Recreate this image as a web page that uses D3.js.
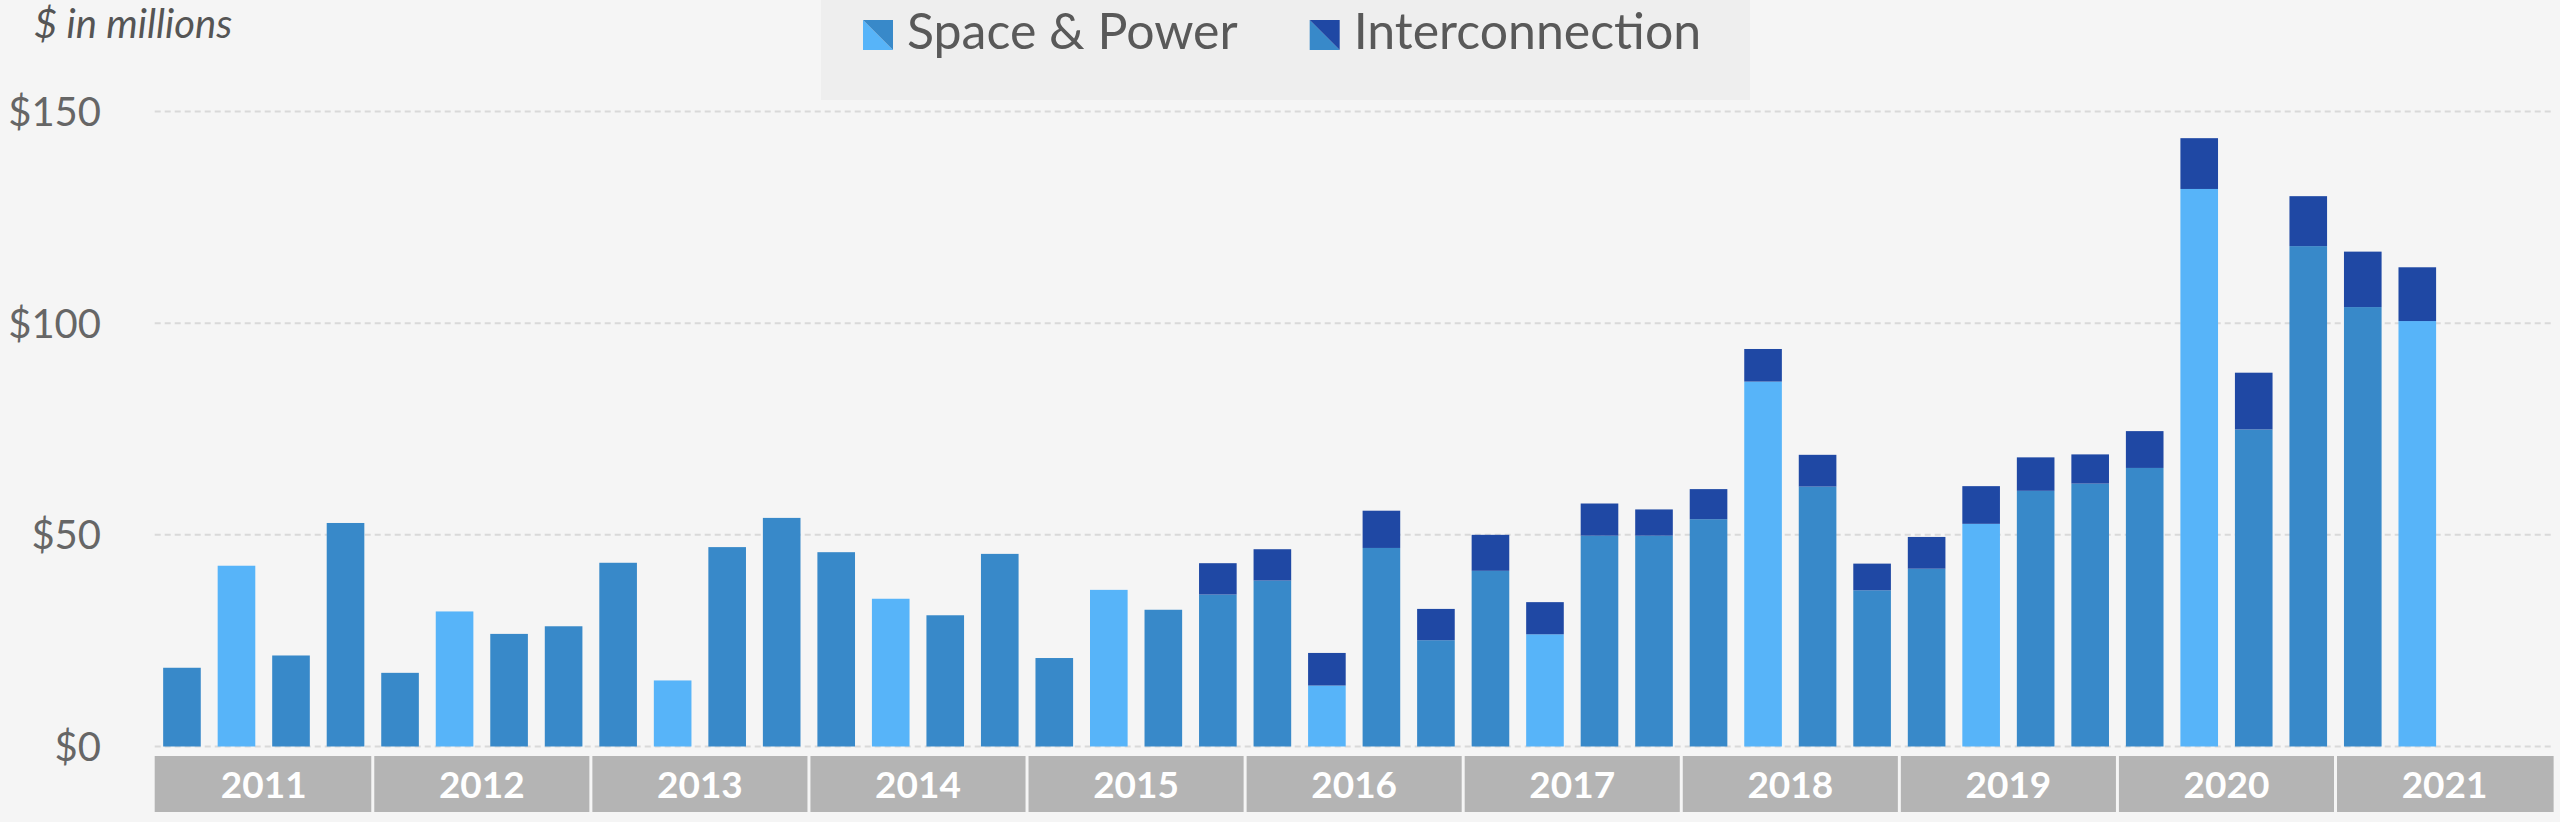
<!DOCTYPE html>
<html>
<head>
<meta charset="utf-8">
<script src="https://cdn.jsdelivr.net/npm/d3@7"></script>
<style>
  html, body { margin: 0; padding: 0; background: #f5f5f5; }
  svg { display: block; }
</style>
</head>
<body>
<svg id="chart" width="2560" height="822"></svg>
<script>
// ---------------- DATA ----------------
const years = ["2011","2012","2013","2014","2015","2016","2017","2018","2019","2020","2021"];
const quarterNames = ["Q1","Q2","Q3","Q4"];
// Reported quarters (2011 Q1 .. 2021 Q2)
const categories = [
  "2011 Q1","2011 Q2","2011 Q3","2011 Q4",
  "2012 Q1","2012 Q2","2012 Q3","2012 Q4",
  "2013 Q1","2013 Q2","2013 Q3","2013 Q4",
  "2014 Q1","2014 Q2","2014 Q3","2014 Q4",
  "2015 Q1","2015 Q2","2015 Q3","2015 Q4",
  "2016 Q1","2016 Q2","2016 Q3","2016 Q4",
  "2017 Q1","2017 Q2","2017 Q3","2017 Q4",
  "2018 Q1","2018 Q2","2018 Q3","2018 Q4",
  "2019 Q1","2019 Q2","2019 Q3","2019 Q4",
  "2020 Q1","2020 Q2","2020 Q3","2020 Q4",
  "2021 Q1","2021 Q2"
];
const spaceAndPower = [
  18.6, 42.7, 21.5, 52.8,
  17.4, 31.9, 26.6, 28.4,
  43.4, 15.6, 47.1, 54.0,
  45.9, 34.9, 31.0, 45.5,
  20.9, 37.0, 32.3, 35.9,
  39.2, 14.4, 46.9, 25.1,
  41.5, 26.5, 49.8, 49.8,
  53.7, 86.2, 61.4, 36.9,
  42.0, 52.6, 60.4, 62.1,
  65.8, 131.7, 74.9, 118.2,
  103.8, 100.5
];
const interconnection = [
  0, 0, 0, 0,
  0, 0, 0, 0,
  0, 0, 0, 0,
  0, 0, 0, 0,
  0, 0, 0, 7.4,
  7.4, 7.7, 8.8, 7.4,
  8.5, 7.6, 7.6, 6.2,
  7.1, 7.7, 7.5, 6.3,
  7.5, 8.9, 7.9, 6.9,
  8.7, 12.0, 13.4, 11.8,
  13.1, 12.7
];
const seriesNames = ["Space & Power", "Interconnection"];
const yTicks = [0, 50, 100, 150];
const unitLabel = "$ in millions";

// ---------------- STYLE ----------------
const COL_MID = "#3889c9";
const COL_LIGHT = "#57b4f9";
const COL_DARK = "#1f48a4";
const FONT = "Lato, 'Open Sans', sans-serif";

const svg = d3.select("#chart");
svg.append("rect").attr("width", 2560).attr("height", 822).attr("fill", "#f5f5f5");

const left = 154.7, right = 2553.6, y0 = 746.5, yTop = 111.5;

const allSlots = [];
years.forEach(y => quarterNames.forEach(q => allSlots.push(y + " " + q)));

const x = d3.scaleBand().domain(allSlots).range([left, right]).paddingInner(0.31).paddingOuter(0.155);
const xYear = d3.scaleBand().domain(years).range([left, right]);
const y = d3.scaleLinear().domain([0, 150]).range([y0, yTop]);

// gridlines
const grid = svg.append("g");
grid.selectAll("line").data(yTicks).join("line")
  .attr("x1", left).attr("x2", right)
  .attr("y1", d => y(d)).attr("y2", d => y(d))
  .attr("stroke", "#d9d9d9").attr("stroke-width", 2)
  .attr("stroke-dasharray", "6,4");

// y axis labels
const yAxis = d3.axisLeft(y).tickValues(yTicks).tickFormat(d => "$" + d).tickSize(0).tickPadding(0);
const gy = svg.append("g").attr("transform", "translate(101,0)").call(yAxis);
gy.select(".domain").remove();
gy.selectAll("text").attr("font-family", FONT).attr("font-size", 40).attr("fill", "#666").attr("dy", "0.35em");

// bars
const rows = categories.map((c, i) => ({ cat: c, sp: spaceAndPower[i], ic: interconnection[i] }));
const spColor = d => d.cat.endsWith("Q2") ? COL_LIGHT : COL_MID;

svg.append("g").selectAll("rect").data(rows).join("rect")
  .attr("x", d => x(d.cat)).attr("width", x.bandwidth())
  .attr("y", d => y(d.sp)).attr("height", d => y(0) - y(d.sp))
  .attr("fill", spColor);

svg.append("g").selectAll("rect").data(rows.filter(d => d.ic > 0)).join("rect")
  .attr("x", d => x(d.cat)).attr("width", x.bandwidth())
  .attr("y", d => y(d.sp + d.ic)).attr("height", d => y(d.sp) - y(d.sp + d.ic))
  .attr("fill", COL_DARK);

// year band axis
const band = svg.append("g");
band.selectAll("rect").data(years).join("rect")
  .attr("x", d => xYear(d)).attr("width", xYear.bandwidth())
  .attr("y", 756).attr("height", 56)
  .attr("fill", "#b4b4b4");
band.selectAll("line").data(years.slice(1)).join("line")
  .attr("x1", d => xYear(d)).attr("x2", d => xYear(d))
  .attr("y1", 756).attr("y2", 812)
  .attr("stroke", "#f5f5f5").attr("stroke-width", 3);
band.selectAll("text").data(years).join("text")
  .attr("x", d => xYear(d) + xYear.bandwidth() / 2)
  .attr("y", 785).attr("dy", "0.36em")
  .attr("text-anchor", "middle")
  .attr("font-family", FONT).attr("font-weight", 700).attr("font-size", 37)
  .attr("fill", "#ffffff")
  .text(d => d);

// unit label
svg.append("text").attr("x", 34).attr("y", 38)
  .attr("font-family", FONT).attr("font-style", "italic").attr("font-size", 40)
  .attr("fill", "#555").text(unitLabel);

// legend
const lg = svg.append("g");
lg.append("rect").attr("x", 821).attr("y", 0).attr("width", 929).attr("height", 100).attr("fill", "#eeeeee");
const swatchCols = [[COL_LIGHT, COL_MID], [COL_MID, COL_DARK]];
let lx = 863;
seriesNames.forEach((name, i) => {
  const g = lg.append("g").attr("transform", `translate(${lx},20)`);
  const s = 30;
  g.append("path").attr("d", `M0,0 L${s},${s} L0,${s} Z`).attr("fill", swatchCols[i][0]);
  g.append("path").attr("d", `M0,0 L${s},0 L${s},${s} Z`).attr("fill", swatchCols[i][1]);
  const t = g.append("text").attr("x", 44).attr("y", 29)
    .attr("font-family", FONT).attr("font-size", 50).attr("fill", "#595959").text(name);
  const w = t.node().getComputedTextLength();
  lx += 44 + w + 72;
});
</script>
</body>
</html>
